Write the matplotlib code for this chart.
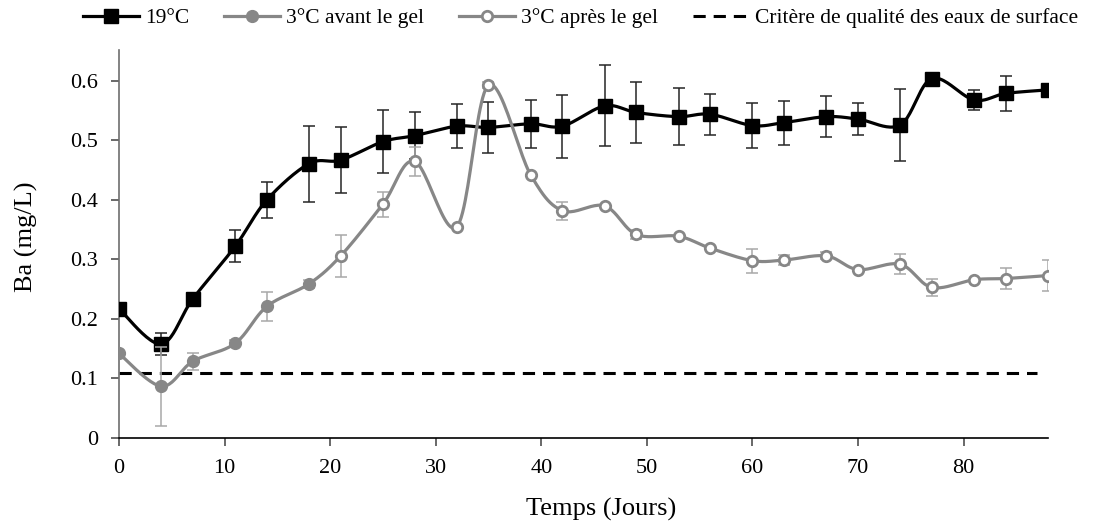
import numpy as np
import matplotlib
matplotlib.use("Agg")
import matplotlib.pyplot as plt
from matplotlib.lines import Line2D

plt.rcParams['font.family'] = ['Liberation Serif', 'DejaVu Serif']

# ---- data ----
days = [0, 4, 7, 11, 14, 18, 21, 25, 28, 32, 35, 39, 42, 46, 49, 53, 56, 60, 63, 67, 70, 74, 77, 81, 84, 88]
ba_19 = [0.217, 0.158, 0.234, 0.322, 0.400, 0.461, 0.467, 0.498, 0.508, 0.524, 0.522, 0.528, 0.524, 0.558,
         0.547, 0.540, 0.544, 0.525, 0.530, 0.540, 0.536, 0.526, 0.604, 0.568, 0.579, 0.585]
err_19 = [0.0, 0.019, 0.0, 0.027, 0.030, 0.064, 0.055, 0.053, 0.040, 0.037, 0.043, 0.040, 0.053, 0.068,
          0.051, 0.048, 0.034, 0.038, 0.037, 0.034, 0.027, 0.060, 0.0, 0.017, 0.030, 0.0]

days_avant = [0, 4, 7, 11, 14, 18]
ba_avant = [0.142, 0.087, 0.129, 0.159, 0.221, 0.259]
err_avant = [0.0, 0.066, 0.014, 0.005, 0.024, 0.007]

days_apres = [21, 25, 28, 32, 35, 39, 42, 46, 49, 53, 56, 60, 63, 67, 70, 74, 77, 81, 84, 88]
ba_apres = [0.306, 0.393, 0.465, 0.355, 0.593, 0.442, 0.382, 0.390, 0.342, 0.339, 0.319, 0.298, 0.299,
            0.306, 0.283, 0.292, 0.253, 0.266, 0.268, 0.273]
err_apres = [0.035, 0.021, 0.024, 0.0, 0.005, 0.0, 0.015, 0.0, 0.008, 0.0, 0.0, 0.020, 0.009, 0.006,
             0.0, 0.017, 0.014, 0.0, 0.018, 0.026]

crit_days = [0, 87]
crit_value = [0.11, 0.11]

labels = ["19°C", "3°C avant le gel", "3°C après le gel", "Critère de qualité des eaux de surface"]
xticks = [0, 10, 20, 30, 40, 50, 60, 70, 80]
yticks = [0, 0.1, 0.2, 0.3, 0.4, 0.5, 0.6]


def smooth(x, y, n=25):
    pts = np.column_stack([np.asarray(x, float), np.asarray(y, float)])
    P = np.vstack([pts[0], pts, pts[-1]])
    out = []
    t = np.linspace(0, 1, n)[:, None]
    for i in range(len(pts) - 1):
        p0, p1, p2, p3 = P[i], P[i + 1], P[i + 2], P[i + 3]
        c1 = p1 + (p2 - p0) / 6
        c2 = p2 - (p3 - p1) / 6
        seg = (1 - t) ** 3 * p1 + 3 * (1 - t) ** 2 * t * c1 + 3 * (1 - t) * t ** 2 * c2 + t ** 3 * p2
        out.append(seg if i == 0 else seg[1:])
    s = np.vstack(out)
    return s[:, 0], s[:, 1]


BLACK = '#000000'
GRAY = '#878787'
EGRAY = '#a8a8a8'
EBLACK = '#262626'

fig = plt.figure(figsize=(10.93, 5.23), dpi=100)
ax = fig.add_axes([119 / 1093, 1 - 438 / 523, (1048 - 119) / 1093, (438 - 50) / 523])

# criterion line
ax.plot(crit_days, crit_value, color=BLACK, lw=2.2, linestyle=(0, (4, 2.6)), zorder=2)

# 19 °C
ax.errorbar(days, ba_19, yerr=err_19, fmt='none', ecolor=EBLACK, elinewidth=1.1, capsize=4, capthick=1.1, zorder=3)
sx, sy = smooth(days, ba_19)
ax.plot(sx, sy, color=BLACK, lw=2.3, zorder=4)
ax.plot(days, ba_19, linestyle='none', marker='s', ms=9.5, mfc=BLACK, mec=BLACK, zorder=5)

# 3 °C
gx = days_avant + days_apres
gy = ba_avant + ba_apres
ax.errorbar(days_avant, ba_avant, yerr=err_avant, fmt='none', ecolor=EGRAY, elinewidth=1.1, capsize=4, capthick=1.1, zorder=6)
ax.errorbar(days_apres, ba_apres, yerr=err_apres, fmt='none', ecolor=EGRAY, elinewidth=1.1, capsize=4, capthick=1.1, zorder=6)
sx, sy = smooth(gx, gy)
ax.plot(sx, sy, color=GRAY, lw=2.3, zorder=7)
ax.plot(days_avant, ba_avant, linestyle='none', marker='o', ms=8.5, mfc=GRAY, mec=GRAY, zorder=8)
ax.plot(days_apres, ba_apres, linestyle='none', marker='o', ms=7.5, mfc='white', mec=GRAY, mew=2.0, zorder=8)

ax.set_xlim(0, 88)
ax.set_ylim(0, 0.652)
ax.set_xticks(xticks)
ax.set_xticklabels([str(v) for v in xticks])
ax.set_yticks(yticks)
ax.set_yticklabels(['0' if v == 0 else f'{v:.1f}' for v in yticks])

for s in ['top', 'right']:
    ax.spines[s].set_visible(False)
ax.spines['bottom'].set_color('#000000')
ax.spines['left'].set_color('#6e6e6e')
ax.spines['bottom'].set_linewidth(1.2)
ax.spines['left'].set_linewidth(1.2)
ax.tick_params(axis='x', direction='out', length=6, width=1.1, color='#404040', labelsize=16, pad=9)
ax.tick_params(axis='y', direction='out', length=6, width=1.1, color='#404040', labelsize=16, pad=9)

ax.set_xlabel("Temps (Jours)", fontsize=19)
ax.set_ylabel("Ba (mg/L)", fontsize=19)
ax.xaxis.set_label_coords((601 - 119) / 929, (438 - 498) / 388)
ax.yaxis.set_label_coords((38 - 119) / 929, (438 - 236.5) / 388)

handles = [
    Line2D([], [], color=BLACK, lw=2.3, marker='s', ms=9.5),
    Line2D([], [], color=GRAY, lw=2.3, marker='o', ms=8.5, mfc=GRAY, mec=GRAY),
    Line2D([], [], color=GRAY, lw=2.3, marker='o', ms=7.5, mfc='white', mec=GRAY, mew=2.0),
    Line2D([], [], color=BLACK, lw=2.2, linestyle=(0, (4, 2.6))),
]
fig.legend(handles, labels, loc='center', bbox_to_anchor=(0.531, 1 - 18 / 523), ncol=4, frameon=False,
           fontsize=15.5, handlelength=2.6, handletextpad=0.3, columnspacing=1.6, borderpad=0)

fig.savefig("out.png", dpi=100)
